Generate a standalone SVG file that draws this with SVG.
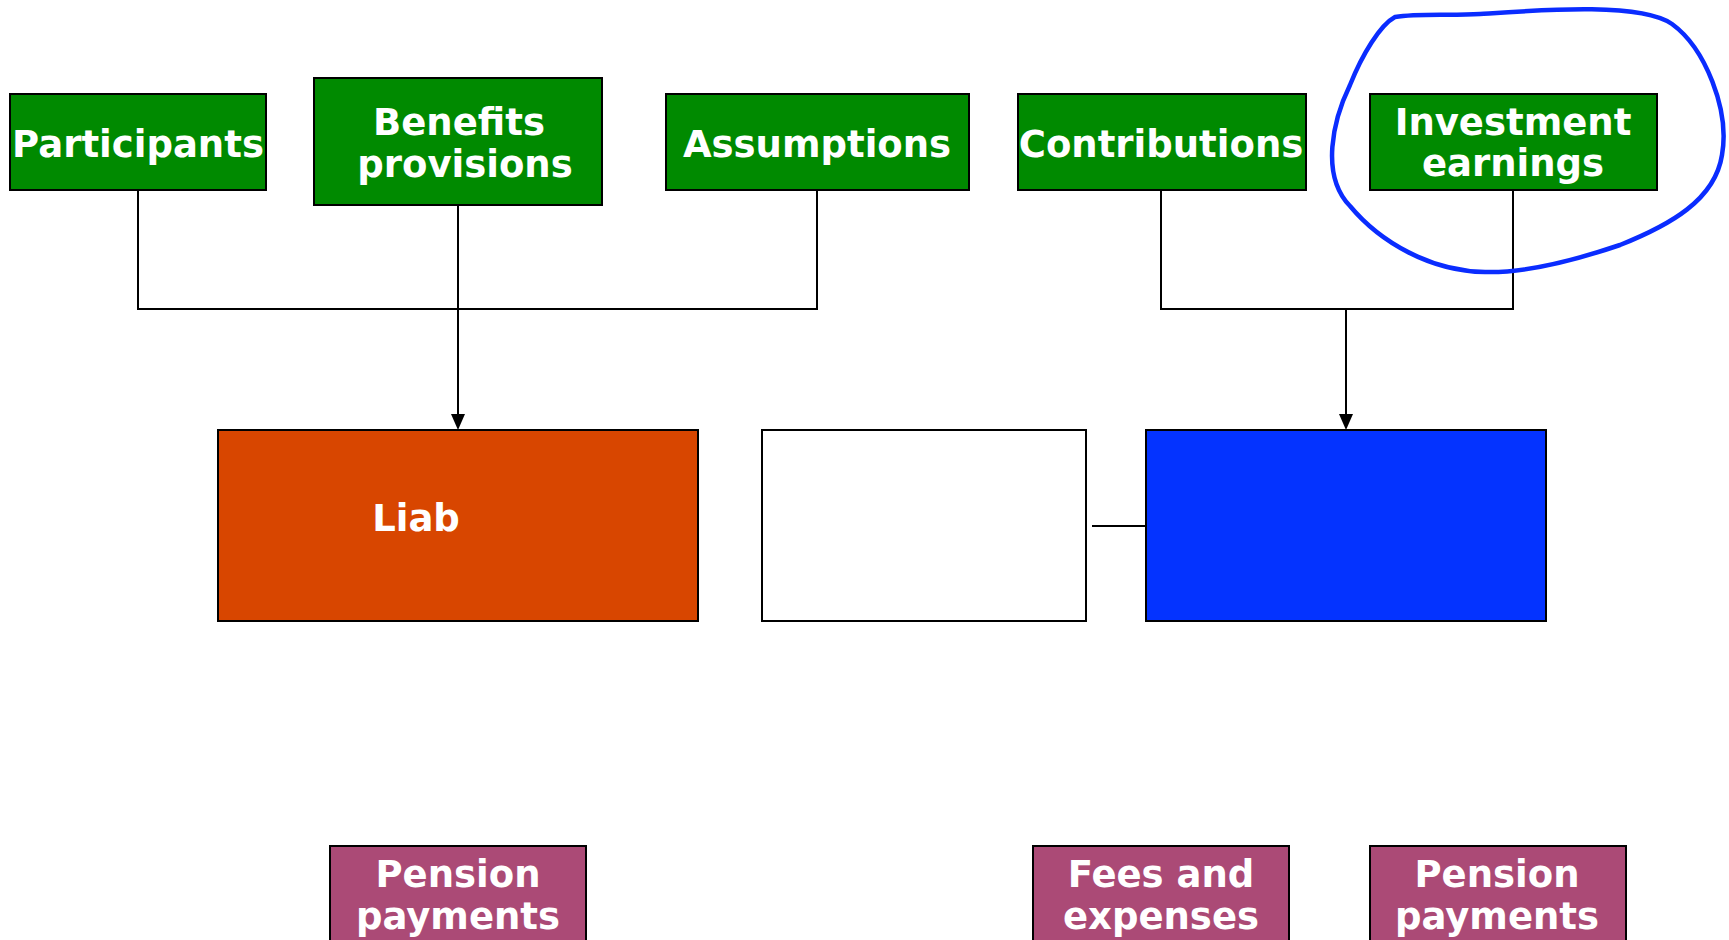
<svg xmlns="http://www.w3.org/2000/svg" width="1729" height="940" viewBox="0 0 1729 940">
<style>
.box{stroke:#000;stroke-width:2}
.g{fill:#008a00}
.m{fill:#ab4a76}
.t{font-family:"DejaVu Sans","Verdana",sans-serif;font-weight:bold;font-size:37px;fill:#fff;text-anchor:middle}
.c{fill:none;stroke:#000;stroke-width:2}
.ah{fill:#000}
</style>
<rect width="1729" height="940" fill="#fff"/>
<g id="connectors">
<polyline class="c" points="138,190 138,309 817,309 817,190"/>
<line class="c" x1="458" y1="205" x2="458" y2="414"/>
<path class="ah" d="M451,414 L465,414 L458,430 Z"/>
<polyline class="c" points="1161,190 1161,309 1513,309 1513,190"/>
<line class="c" x1="1346" y1="309" x2="1346" y2="414"/>
<path class="ah" d="M1339,414 L1353,414 L1346,430 Z"/>
<line class="c" x1="1092" y1="526" x2="1146" y2="526"/>
</g>
<g id="participants"><rect class="box g" x="10" y="94" width="256" height="96"/><text class="t" x="138" y="157">Participants</text></g>
<g id="benefits"><rect class="box g" x="314" y="78" width="288" height="127"/><text class="t" x="459" y="135">Benefits</text><text class="t" x="465" y="177">provisions</text></g>
<g id="assumptions"><rect class="box g" x="666" y="94" width="303" height="96"/><text class="t" x="817" y="157">Assumptions</text></g>
<g id="contributions"><rect class="box g" x="1018" y="94" width="288" height="96"/><text class="t" x="1161" y="157">Contributions</text></g>
<g id="investment"><rect class="box g" x="1370" y="94" width="287" height="96"/><text class="t" x="1513" y="135">Investment</text><text class="t" x="1513" y="176">earnings</text></g>
<g id="liab"><rect class="box" fill="#d84600" x="218" y="430" width="480" height="191"/><text class="t" x="416" y="531">Liab</text></g>
<g id="blank"><rect class="box" fill="#fff" x="762" y="430" width="324" height="191"/></g>
<g id="assets"><rect class="box" fill="#0433ff" x="1146" y="430" width="400" height="191"/></g>
<g id="pension1"><rect class="box m" x="330" y="846" width="256" height="120"/><text class="t" x="458" y="887">Pension</text><text class="t" x="458" y="929">payments</text></g>
<g id="fees"><rect class="box m" x="1033" y="846" width="256" height="120"/><text class="t" x="1161" y="887">Fees and</text><text class="t" x="1161" y="929">expenses</text></g>
<g id="pension2"><rect class="box m" x="1370" y="846" width="256" height="120"/><text class="t" x="1497" y="887">Pension</text><text class="t" x="1497" y="929">payments</text></g>
<path id="circle" d="M1395,17 C1420,13 1450,16 1480,14 C1540,10 1640,2 1672,24 C1705,48 1730,110 1722,155 C1715,200 1670,225 1620,245 C1570,262 1520,273 1485,272 C1430,271 1380,242 1350,206 C1320,175 1333,120 1350,85 C1362,55 1380,25 1395,17 Z" fill="none" stroke="#0a2cff" stroke-width="4.5" stroke-linejoin="round"/>
</svg>
